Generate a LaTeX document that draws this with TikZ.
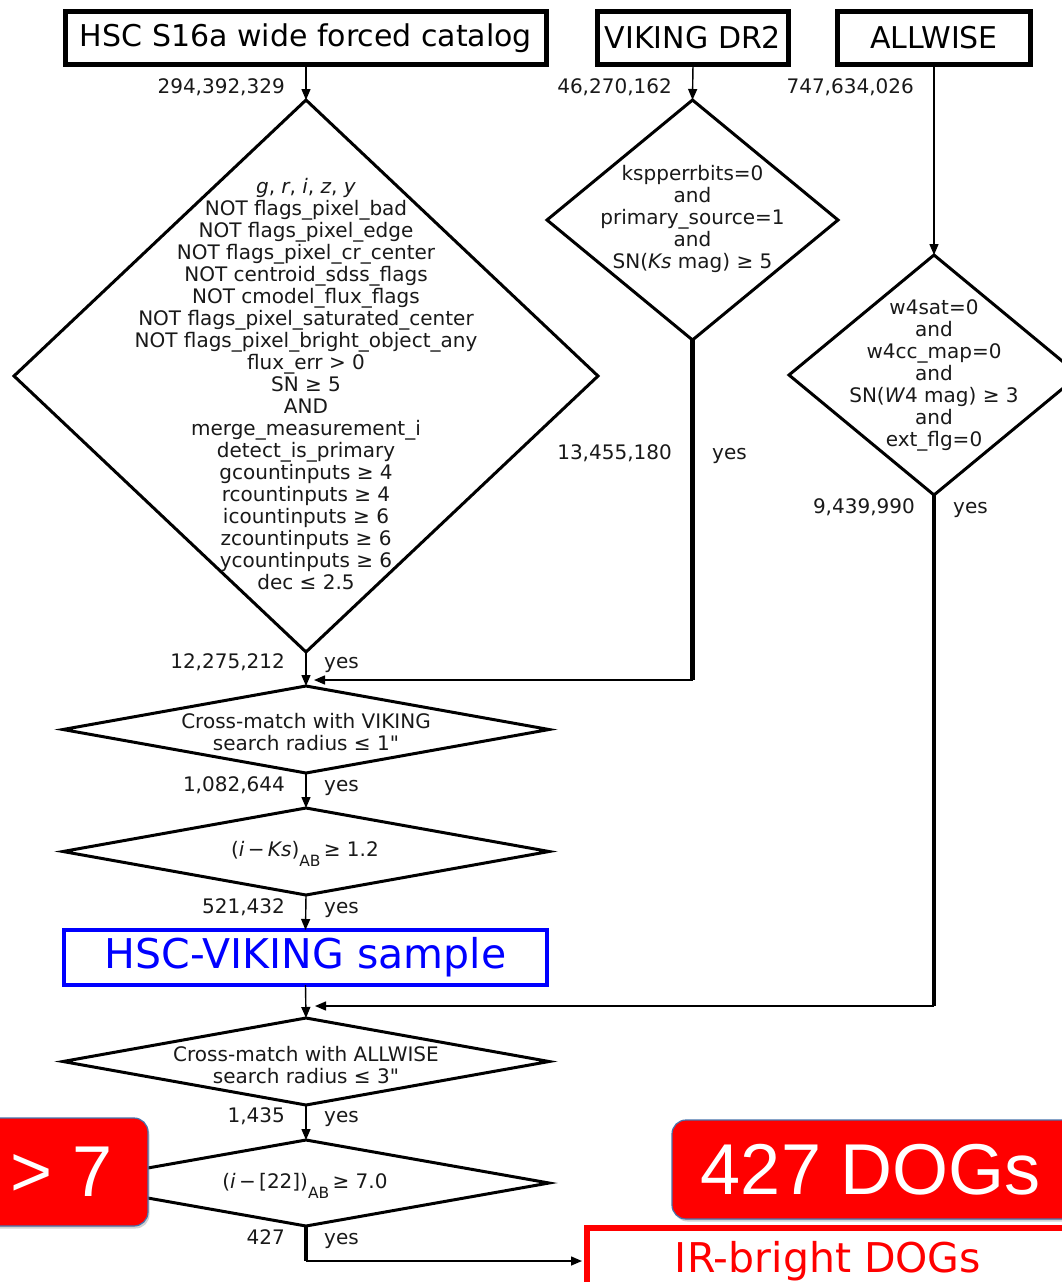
\documentclass[tikz,border=0pt]{standalone}
\usepackage{fontspec}
\setmainfont{DejaVu Sans}
\newfontfamily\hvfont{Liberation Sans}
\usetikzlibrary{shapes.geometric,arrows.meta,shadows}
\definecolor{pureblue}{RGB}{0,0,255}
\definecolor{purered}{RGB}{255,0,0}
\definecolor{edgeblue}{RGB}{70,114,172}
\definecolor{inkgray}{RGB}{25,25,25}
\begin{document}
\begin{tikzpicture}[x=1pt,y=-1pt,
  srcbox/.style={draw=black,line width=5pt,minimum height=53pt,inner sep=0pt,outer sep=0pt,
    font=\fontsize{30}{34}\selectfont},
  dia/.style={draw=black,diamond,line width=3pt,inner sep=0pt,outer sep=0pt},
  ctext/.style={align=center,inner sep=0pt,text=inkgray,font=\fontsize{20}{22}\selectfont},
  num/.style={anchor=base east,inner sep=0pt,text=inkgray,font=\fontsize{20}{22}\selectfont},
  yeslab/.style={anchor=base west,inner sep=0pt,text=inkgray,font=\fontsize{20}{22}\selectfont},
  conn/.style={line width=1.4pt,-{Triangle[length=11pt,width=9pt]}},
  thickline/.style={line width=4.5pt},
  overlaybox/.style={draw=edgeblue,line width=1.2pt,fill=purered,rounded corners=14pt,
    drop shadow={opacity=0.35,shadow xshift=1.5pt,shadow yshift=-2.5pt}},
  bigwhite/.style={inner sep=0pt,text=white,font=\hvfont\fontsize{72}{76}\selectfont}
]
\path[use as bounding box,fill=white] (0,0) rectangle (1061,1282);

% source boxes
\node[srcbox,minimum width=481pt] (hsc) at (306,38) {HSC S16a wide forced catalog};
\node[srcbox,minimum width=191pt] (vik) at (693,38) {VIKING DR2};
\node[srcbox,minimum width=193pt] (allw) at (934,38) {ALLWISE};

% diamonds
\node[dia,minimum width=584pt,minimum height=552pt] (dA) at (306,376) {};
\node[dia,minimum width=291pt,minimum height=240pt] (dV) at (692.5,220) {};
\node[dia,minimum width=290pt,minimum height=240pt] (dW) at (934,375) {};
\node[dia,minimum width=486pt,minimum height=87pt] (dX) at (306,729.5) {};
\node[dia,minimum width=486pt,minimum height=87pt] (dK) at (306,851.5) {};
\node[dia,minimum width=486pt,minimum height=87pt] (dM) at (306,1061.5) {};
\node[dia,minimum width=486pt,minimum height=86pt] (dI) at (306,1183) {};

% diamond texts
\node[ctext] (tA) at (306,384.5) {\textit{g}, \textit{r}, \textit{i}, \textit{z}, \textit{y}\\
NOT flags\_pixel\_bad\\
NOT flags\_pixel\_edge\\
NOT flags\_pixel\_cr\_center\\
NOT centroid\_sdss\_flags\\
NOT cmodel\_flux\_flags\\
NOT flags\_pixel\_saturated\_center\\
NOT flags\_pixel\_bright\_object\_any\\
flux\_err > 0\\
SN ≥ 5\\
AND\\
merge\_measurement\_i\\
detect\_is\_primary\\
gcountinputs ≥ 4\\
rcountinputs ≥ 4\\
icountinputs ≥ 6\\
zcountinputs ≥ 6\\
ycountinputs ≥ 6\\
dec ≤ 2.5};
\node[ctext] (tV) at (692.5,219.3) {kspperrbits=0\\and\\primary\_source=1\\and\\SN(\textit{Ks} mag) ≥ 5};
\node[ctext] (tW) at (934,375.5) {w4sat=0\\and\\w4cc\_map=0\\and\\SN(\textit{W}4 mag) ≥ 3\\and\\ext\_flg=0};
\node[ctext] (tX) at (306,731.9) {Cross-match with VIKING\\search radius ≤ 1\textquotedbl};
\node[ctext,anchor=base] (tK) at (305,856.5) {(\textit{i}\,−\,\textit{Ks})\raisebox{-10pt}{\fontsize{15.5}{16}\selectfont AB}\,≥ 1.2};
\node[ctext] (tM) at (306,1064.9) {Cross-match with ALLWISE\\search radius ≤ 3\textquotedbl};
\node[ctext,anchor=base] (tI) at (305,1188) {(\textit{i}\,−\,[22])\raisebox{-10pt}{\fontsize{15.5}{16}\selectfont AB}\,≥ 7.0};

% HSC-VIKING sample box
\node[draw=pureblue,line width=4pt,minimum width=483pt,minimum height=55pt,inner sep=0pt,outer sep=0pt,
  text=pureblue,font=\fontsize{41}{44}\selectfont] (hv) at (305.5,957.5) {HSC-VIKING sample};

% IR-bright DOGs box
\node[draw=purered,line width=6pt,minimum width=500pt,minimum height=100pt,inner sep=0pt,outer sep=0pt] (irb) at (837,1278) {};
\node[inner sep=0pt,text=purered,font=\fontsize{41}{44}\selectfont] (irbt) at (828,1261) {IR-bright DOGs};

% connectors
\draw[conn] (hsc.south) -- (dA.north);
\draw[conn] (vik.south) -- (dV.north);
\draw[conn] (allw.south) -- (dW.north);
\draw[conn] (dA.south) -- (dX.north);
\draw[conn] (dX.south) -- (dK.north);
\draw[conn] (dK.south) -- (hv.north);
\draw[conn] (hv.south) -- (dM.north);
\draw[conn] (dM.south) -- (dI.north);

\coordinate (cV) at (692.5,680);
\coordinate (tipV) at (314,680);
\draw[thickline] (dV.south) -- (cV);
\draw[conn] (cV) -- (tipV);

\coordinate (cW) at (934,1006);
\coordinate (tipW) at (315,1006);
\draw[thickline] (dW.south) -- (cW);
\draw[conn] (cW) -- (tipW);

\coordinate (cI) at (306,1261);
\coordinate (tipI) at (582,1261);
\draw[thickline] (dI.south) -- (cI);
\draw[conn] (cI) -- (tipI);

% count labels
\node[num] (n1) at (285,93) {294,392,329};
\node[num] (n2) at (672,93) {46,270,162};
\node[num] (n3) at (914,93) {747,634,026};
\node[num] (n4) at (285,668) {12,275,212};
\node[yeslab] (y4) at (324,668) {yes};
\node[num] (n5) at (672,459) {13,455,180};
\node[yeslab] (y5) at (712,459) {yes};
\node[num] (n6) at (915,513) {9,439,990};
\node[yeslab] (y6) at (953,513) {yes};
\node[num] (n7) at (285,791) {1,082,644};
\node[yeslab] (y7) at (324,791) {yes};
\node[num] (n8) at (285,913) {521,432};
\node[yeslab] (y8) at (324,913) {yes};
\node[num] (n9) at (285,1122) {1,435};
\node[yeslab] (y9) at (324,1122) {yes};
\node[num] (n10) at (285,1244) {427};
\node[yeslab] (y10) at (324,1244) {yes};

% overlay badges
\node[overlaybox,minimum width=423pt,minimum height=99pt] (dogs) at (883.5,1169.5) {};
\node[bigwhite] (dogst) at (871,1170) {427 DOGs};
\node[overlaybox,minimum width=188pt,minimum height=108pt] (gt) at (54,1172) {};
\node[bigwhite] (gtt) at (62,1172) {> 7};
\end{tikzpicture}
\end{document}
